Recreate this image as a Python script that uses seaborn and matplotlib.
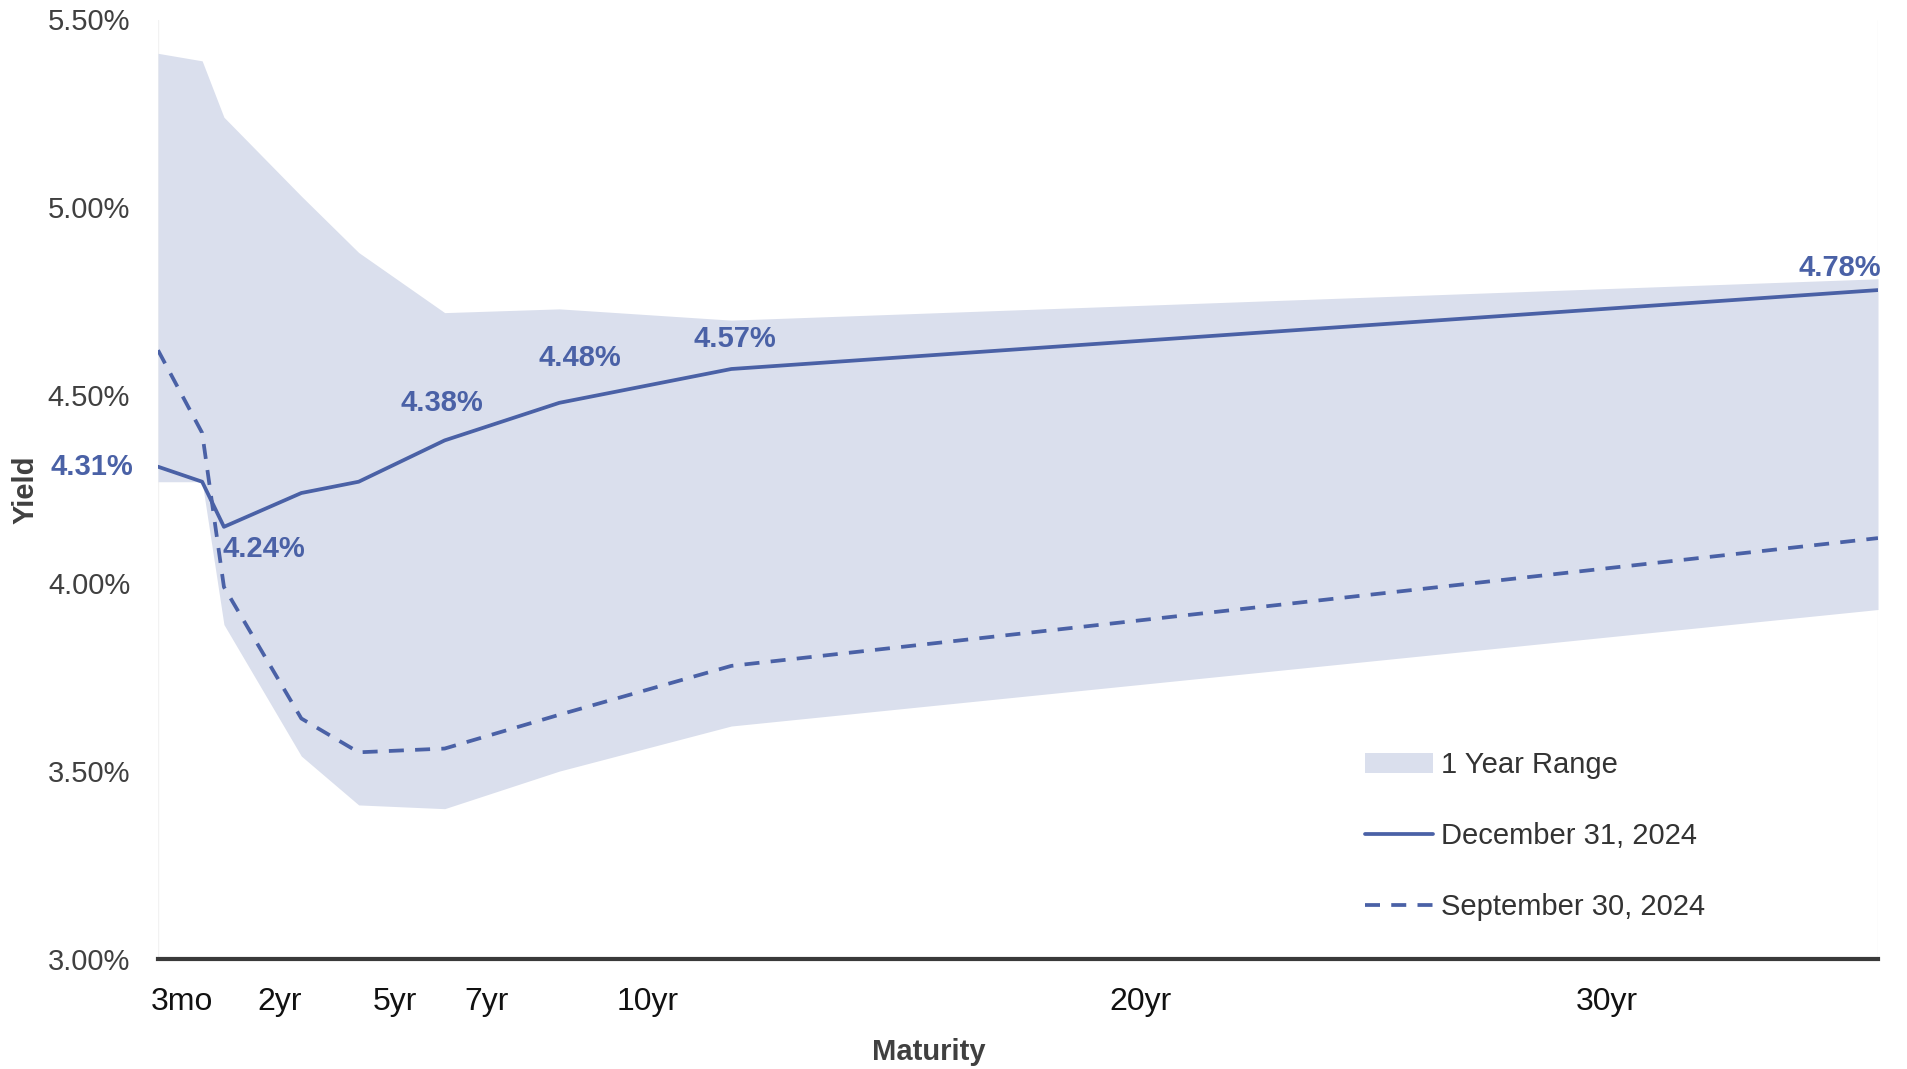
import numpy as np
import pandas as pd
import matplotlib
matplotlib.use("Agg")
import matplotlib.pyplot as plt
from matplotlib import font_manager
import seaborn as sns

# Treasury curve maturities and their positions along the x axis (years)
maturities = ["3mo", "6mo", "1yr", "2yr", "3yr", "5yr", "7yr", "10yr", "30yr"]
maturity_pos = [0.0, 0.77, 1.15, 2.5, 3.5, 5.0, 7.0, 10.0, 30.0]

# Yields in percent
dec_2024 = [4.31, 4.27, 4.15, 4.24, 4.27, 4.38, 4.48, 4.57, 4.78]
sep_2024 = [4.62, 4.40, 3.99, 3.64, 3.55, 3.56, 3.65, 3.78, 4.12]
range_high = [5.41, 5.39, 5.24, 5.03, 4.88, 4.72, 4.73, 4.70, 4.81]
range_low = [4.27, 4.27, 3.89, 3.54, 3.41, 3.40, 3.50, 3.62, 3.93]

# Axis tick labels
tick_labels = ["3mo", "2yr", "5yr", "7yr", "10yr", "20yr", "30yr"]
tick_pos = [0.42, 2.12, 4.14, 5.73, 8.54, 17.13, 25.27]
y_ticks = [3.0, 3.5, 4.0, 4.5, 5.0, 5.5]

# Value labels on the December curve: (maturity, dx, dy) placement
labelled = [("3mo", -1.15, 0.0), ("2yr", -0.65, -0.15), ("5yr", -0.05, 0.10),
            ("7yr", 0.35, 0.12), ("10yr", 0.06, 0.08), ("30yr", -0.66, 0.06)]

df = pd.DataFrame({
    "maturity": maturities,
    "pos": maturity_pos,
    "dec": dec_2024,
    "sep": sep_2024,
    "hi": range_high,
    "lo": range_low,
})

sns.set_theme(style="white")
plt.rcParams["font.family"] = ["Liberation Sans", "DejaVu Sans"]

installed = {f.name for f in font_manager.fontManager.ttflist}
narrow = "Liberation Sans Narrow" if "Liberation Sans Narrow" in installed else "Liberation Sans"
xtick_size = 26 if narrow == "Liberation Sans Narrow" else 23

LINE = "#4a61a6"
FILL = "#dadfed"

fig = plt.figure(figsize=(19.08, 10.69), dpi=100)
ax = fig.add_axes([158 / 1908, 1 - 959 / 1069, 1720 / 1908, 939.5 / 1069])

ax.fill_between(df["pos"], df["lo"], df["hi"], color=FILL, linewidth=0,
                label="1 Year Range")
for xe in (df["pos"].min(), df["pos"].max()):
    ax.axvline(xe, color="#f2f2f2", linewidth=1, zorder=0)
sns.lineplot(data=df, x="pos", y="dec", ax=ax, color=LINE, linewidth=2.7,
             label="December 31, 2024")
sns.lineplot(data=df, x="pos", y="sep", ax=ax, color=LINE, linewidth=2.7,
             linestyle=(0, (4, 3)), label="September 30, 2024")

for mat, dx, dy in labelled:
    row = df[df["maturity"] == mat].iloc[0]
    ax.text(row["pos"] + dx, row["dec"] + dy, f"{row['dec']:.2f}%",
            ha="center", va="center", fontsize=21, fontweight="bold",
            color=LINE, clip_on=False)

ax.set_xlim(0, 30)
ax.set_ylim(3.0, 5.5)
ax.set_xticks(tick_pos)
ax.set_xticklabels(tick_labels, fontfamily=[narrow, "Liberation Sans"])
ax.set_yticks(y_ticks)
ax.set_yticklabels([f"{v:.2f}%" for v in y_ticks])
ax.tick_params(axis="x", length=0, pad=20, labelsize=xtick_size, labelcolor="#111111")
ax.tick_params(axis="y", length=0, pad=20, labelsize=21, labelcolor="#404040")

for side in ("top", "right", "left"):
    ax.spines[side].set_visible(False)
ax.spines["bottom"].set_color("#3a3a3a")
ax.spines["bottom"].set_linewidth(3)
ax.spines["bottom"].set_zorder(5)

ax.set_xlabel("Maturity", fontsize=21, fontweight="bold", color="#404040")
ax.set_ylabel("Yield", fontsize=21, fontweight="bold", color="#404040")
ax.xaxis.set_label_coords(0.448, -0.084)
ax.yaxis.set_label_coords(-0.069, 0.5)

ax.legend(loc="upper left", bbox_to_anchor=(0.7017, 0.221), frameon=False,
          fontsize=21, handlelength=2.35, handletextpad=0.25, labelspacing=1.47,
          borderpad=0, borderaxespad=0, labelcolor="#333333")

fig.savefig("out.png", dpi=100)
